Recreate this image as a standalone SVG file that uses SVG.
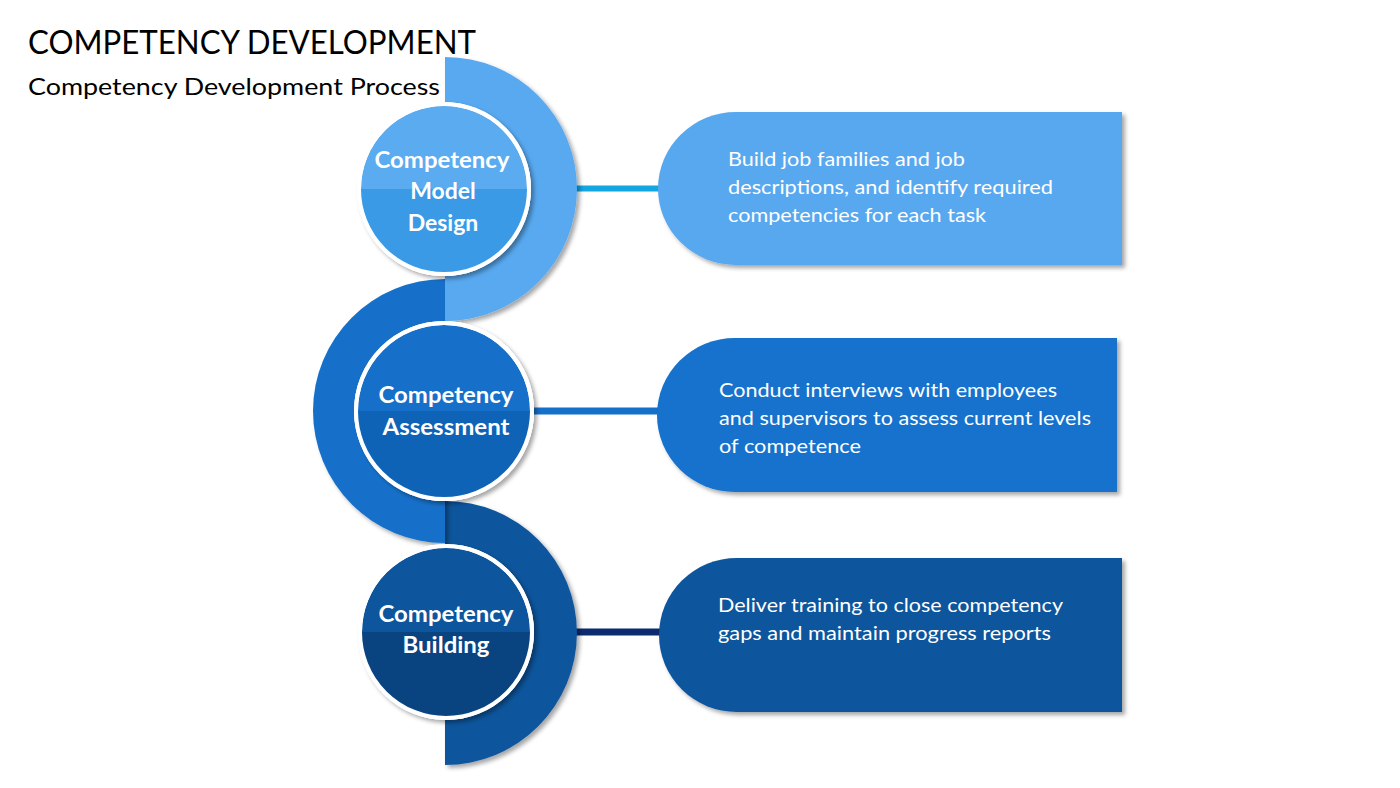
<svg xmlns="http://www.w3.org/2000/svg" width="1400" height="788" viewBox="0 0 1400 788">
<defs>
<style>
.title{font-family:Lato,"Liberation Sans",sans-serif;fill:#000}
.lbl{font-family:Lato,"Liberation Sans",sans-serif;font-weight:bold;font-size:23px;fill:#fff;text-anchor:middle}
.txt{font-family:Lato,"Liberation Sans",sans-serif;font-size:20px;fill:#fff}
.ring{stroke:#fff;stroke-width:4}
</style>
<filter id="sh" x="-10%" y="-10%" width="125%" height="125%">
<feDropShadow dx="3" dy="3" stdDeviation="2" flood-color="#000" flood-opacity="0.35"/>
</filter>
<clipPath id="c1"><circle cx="444" cy="189" r="85"/></clipPath>
<clipPath id="c2"><circle cx="444" cy="411" r="88"/></clipPath>
<clipPath id="c3"><circle cx="446" cy="632" r="86"/></clipPath>
</defs>
<rect width="1400" height="788" fill="#fff"/>

<text class="title" x="28" y="54" font-size="33" textLength="448" lengthAdjust="spacingAndGlyphs">COMPETENCY DEVELOPMENT</text>
<text class="title" x="28" y="95" font-size="24" textLength="412" lengthAdjust="spacingAndGlyphs">Competency Development Process</text>

<g id="connectors">
<line x1="575" y1="188.5" x2="662" y2="188.5" stroke="#13A7E2" stroke-width="6"/>
<line x1="532" y1="411" x2="659" y2="411" stroke="#1570CA" stroke-width="7"/>
<line x1="575" y1="632" x2="663" y2="632" stroke="#0B2A6F" stroke-width="7"/>
</g>

<g id="arc3">
<path d="M445,501 A132,132 0 0 1 445,765 Z" fill="#10559C" filter="url(#sh)"/>
</g>
<g id="arc2">
<path d="M445,279 A132,132 0 0 0 445,543 Z" fill="#1570CA" filter="url(#sh)"/>
</g>
<g id="arc1">
<path d="M445,57 A132,132 0 0 1 445,321 Z" fill="#58A9F0" filter="url(#sh)"/>
</g>

<g id="node1">
<circle cx="444" cy="189" r="85" fill="#5AABEF" class="ring" filter="url(#sh)"/>
<rect x="355" y="189" width="180" height="90" fill="#3A9AE6" clip-path="url(#c1)"/>
<circle cx="444" cy="189" r="85" fill="none" class="ring"/>
<text class="lbl" x="442" y="168" textLength="135" lengthAdjust="spacingAndGlyphs">Competency</text>
<text class="lbl" x="443" y="199">Model</text>
<text class="lbl" x="443" y="231">Design</text>
</g>

<g id="node2">
<circle cx="444" cy="411" r="88" fill="#1570CA" class="ring" filter="url(#sh)"/>
<rect x="352" y="411" width="185" height="92" fill="#0F63B6" clip-path="url(#c2)"/>
<circle cx="444" cy="411" r="88" fill="none" class="ring"/>
<text class="lbl" x="446" y="403" textLength="135" lengthAdjust="spacingAndGlyphs">Competency</text>
<text class="lbl" x="446" y="435" textLength="127" lengthAdjust="spacingAndGlyphs">Assessment</text>
</g>

<g id="node3">
<circle cx="446" cy="632" r="86" fill="#10559C" class="ring" filter="url(#sh)"/>
<rect x="356" y="632" width="180" height="90" fill="#0A4480" clip-path="url(#c3)"/>
<circle cx="446" cy="632" r="86" fill="none" class="ring"/>
<text class="lbl" x="446" y="622" textLength="135" lengthAdjust="spacingAndGlyphs">Competency</text>
<text class="lbl" x="446" y="653" textLength="87" lengthAdjust="spacingAndGlyphs">Building</text>
</g>

<g id="box1">
<path d="M736,112 H1122 V265 H736 A78,76.5 0 0 1 736,112 Z" fill="#58A8F0" filter="url(#sh)"/>
<text class="txt" x="728" y="166" textLength="237" lengthAdjust="spacingAndGlyphs">Build job families and job</text>
<text class="txt" x="728" y="194" textLength="325" lengthAdjust="spacingAndGlyphs">descriptions, and identify required</text>
<text class="txt" x="728" y="222" textLength="258" lengthAdjust="spacingAndGlyphs">competencies for each task</text>
</g>

<g id="box2">
<path d="M735,338 H1117 V492 H735 A78,77 0 0 1 735,338 Z" fill="#1472CC" filter="url(#sh)"/>
<text class="txt" x="719" y="397" textLength="338" lengthAdjust="spacingAndGlyphs">Conduct interviews with employees</text>
<text class="txt" x="719" y="425" textLength="372" lengthAdjust="spacingAndGlyphs">and supervisors to assess current levels</text>
<text class="txt" x="719" y="453" textLength="142" lengthAdjust="spacingAndGlyphs">of competence</text>
</g>

<g id="box3">
<path d="M737,558 H1122 V712 H737 A78,77 0 0 1 737,558 Z" fill="#0F559C" filter="url(#sh)"/>
<text class="txt" x="718" y="612" textLength="345" lengthAdjust="spacingAndGlyphs">Deliver training to close competency</text>
<text class="txt" x="718" y="640" textLength="333" lengthAdjust="spacingAndGlyphs">gaps and maintain progress reports</text>
</g>
</svg>
